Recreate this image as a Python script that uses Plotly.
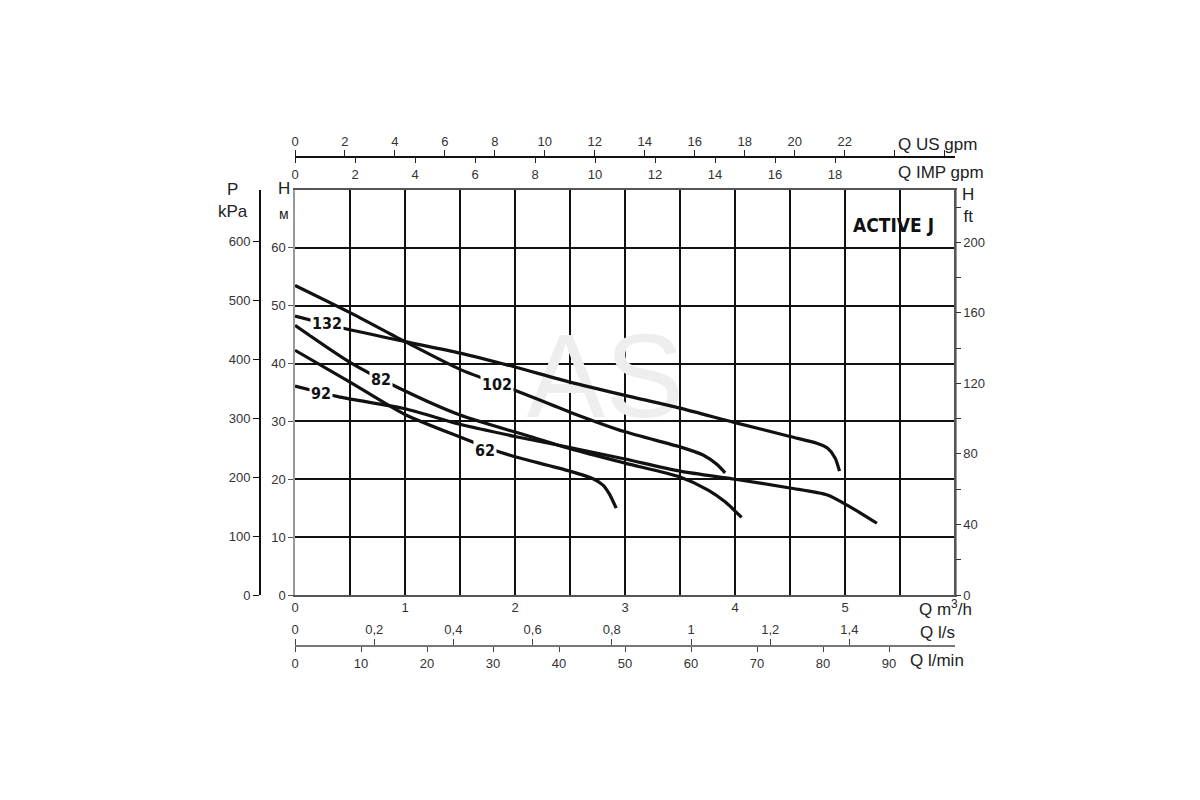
import plotly.graph_objects as go

# pump curves, Q in m3/h, H in m
q_132 = [0, 0.44, 1.0, 1.5, 2.0, 2.5, 3.0, 3.5, 4.0, 4.5, 4.75, 4.84, 4.91, 4.95]
h_132 = [48.2, 46.1, 43.8, 41.8, 39.4, 36.8, 34.5, 32.3, 29.8, 27.4, 26.2, 25.4, 23.7, 21.4]

q_102 = [0, 0.5, 1.0, 1.5, 2.0, 2.5, 3.0, 3.5, 3.71, 3.84, 3.91]
h_102 = [53.5, 48.8, 43.8, 39.0, 35.4, 31.6, 28.2, 25.6, 24.2, 22.5, 21.1]

q_82 = [0, 0.5, 0.93, 1.5, 2.1, 2.5, 3.0, 3.5, 3.76, 3.91, 4.06]
h_82 = [46.6, 40.2, 35.9, 31.1, 27.6, 25.3, 22.8, 20.4, 18.1, 16.1, 13.4]

q_92 = [0, 0.41, 1.0, 1.5, 2.0, 2.5, 3.0, 3.5, 4.0, 4.5, 4.84, 5.05, 5.29]
h_92 = [36.1, 34.2, 32.2, 29.5, 27.4, 25.5, 23.5, 21.4, 20.0, 18.5, 17.3, 15.2, 12.4]

q_62 = [0, 0.5, 1.0, 1.5, 1.86, 2.0, 2.5, 2.71, 2.8, 2.86, 2.92]
h_62 = [42.3, 36.8, 31.2, 27.3, 24.7, 23.9, 21.4, 20.1, 19.0, 17.4, 15.0]

# curve labels: name, Q, H
curve_labels = ["132", "82", "102", "92", "62"]
label_q = [0.29, 0.78, 1.84, 0.24, 1.73]
label_h = [47.0, 37.3, 36.4, 34.9, 24.9]

# axis ticks
q_ticks = [0, 1, 2, 3, 4, 5]
h_ticks = [0, 10, 20, 30, 40, 50, 60]
kpa_ticks = [0, 100, 200, 300, 400, 500, 600]
ft_ticks = [0, 40, 80, 120, 160, 200]
usgpm_ticks = [0, 2, 4, 6, 8, 10, 12, 14, 16, 18, 20, 22]
impgpm_ticks = [0, 2, 4, 6, 8, 10, 12, 14, 16, 18]
ls_ticks = [0, 0.2, 0.4, 0.6, 0.8, 1.0, 1.2, 1.4]
ls_text = ["0", "0,2", "0,4", "0,6", "0,8", "1", "1,2", "1,4"]
lmin_ticks = [0, 10, 20, 30, 40, 50, 60, 70, 80, 90]

Q_MAX = 6.0
H_MAX = 70.0

# page coords are offset by the 8px body margin
OFF = 8
W, H = 1200, 800
ML, MR, MT, MB = 192, 253, 122, 128
PW, PH = W - ML - MR, H - MT - MB


def px(x):
    return (x - OFF - ML) / PW


def py(y):
    return (H - MB - (y - OFF)) / PH


FONT = "Liberation Sans, Arial, sans-serif"
NARROW = "DejaVu Sans Condensed, Liberation Sans Narrow, sans-serif"
tick_font = dict(family=FONT, size=13, color="#333")

fig = go.Figure()

# faint watermark behind the curves
fig.add_trace(go.Scatter(x=[2.82], y=[35.8], mode="text", text=["AS"],
                         textfont=dict(family=FONT, size=118, color="#eeeeee"),
                         hoverinfo="skip", showlegend=False))

for q, h in [(q_132, h_132), (q_102, h_102), (q_82, h_82), (q_92, h_92), (q_62, h_62)]:
    fig.add_trace(go.Scatter(x=q, y=h, mode="lines",
                             line=dict(color="#111", width=3.2, shape="spline", smoothing=0.7),
                             hoverinfo="skip", showlegend=False))

# empty traces so the extra axes get drawn
for xa, ya in [("x2", "y"), ("x3", "y"), ("x4", "y"), ("x5", "y"), ("x", "y2"), ("x", "y3")]:
    fig.add_trace(go.Scatter(x=[], y=[], xaxis=xa, yaxis=ya, showlegend=False, hoverinfo="skip"))

xdom = [px(295), 1.0]
ydom = [py(595), py(190)]

fig.update_layout(
    width=W, height=H,
    margin=dict(l=ML, r=MR, t=MT, b=MB),
    paper_bgcolor="white", plot_bgcolor="white",
    showlegend=False,
    xaxis=dict(domain=xdom, range=[0, Q_MAX], tickvals=q_ticks,
               showgrid=True, gridcolor="#111", gridwidth=1.6, zeroline=False,
               minor=dict(dtick=0.5, showgrid=True, gridcolor="#111", gridwidth=1.6),
               ticks="", showline=True, mirror=True, linecolor="#555", linewidth=1.5,
               tickfont=tick_font, anchor="y"),
    yaxis=dict(domain=ydom, range=[0, H_MAX], tickvals=h_ticks,
               showgrid=True, gridcolor="#111", gridwidth=1.6, zeroline=False,
               ticks="outside", ticklen=5, tickcolor="#555",
               showline=True, mirror=True, linecolor="#999", linewidth=1.5,
               tickfont=tick_font, anchor="x"),
    yaxis2=dict(overlaying="y", anchor="free", position=px(260), side="left",
                range=[0, H_MAX * 9.81], tickvals=kpa_ticks, showgrid=False, zeroline=False,
                ticks="outside", ticklen=6, tickcolor="#111",
                showline=True, linecolor="#111", linewidth=2, tickfont=tick_font),
    yaxis3=dict(overlaying="y", anchor="free", position=1.0, side="right",
                range=[0, H_MAX / 0.3048], tickvals=ft_ticks,
                minor=dict(dtick=20, ticks="outside", ticklen=5, tickcolor="#333", showgrid=False),
                showgrid=False, zeroline=False, ticks="outside", ticklen=5, tickcolor="#333",
                showline=True, linecolor="#555", linewidth=1.5, tickfont=tick_font),
    xaxis2=dict(overlaying="x", anchor="free", position=py(157), side="top",
                range=[0, Q_MAX * 4.40287], tickvals=usgpm_ticks,
                minor=dict(dtick=2, ticks="outside", ticklen=6, tickcolor="#222", showgrid=False),
                showgrid=False, zeroline=False, ticks="outside", ticklen=5, tickcolor="#222",
                showline=True, linecolor="#111", linewidth=2, tickfont=tick_font),
    xaxis3=dict(overlaying="x", anchor="free", position=py(157), side="bottom",
                range=[0, Q_MAX * 3.66615], tickvals=impgpm_ticks,
                showgrid=False, zeroline=False, ticks="outside", ticklen=5, tickcolor="#222",
                showline=False, tickfont=tick_font),
    xaxis4=dict(overlaying="x", anchor="free", position=py(646), side="top",
                range=[0, Q_MAX / 3.6], tickvals=ls_ticks, ticktext=ls_text,
                showgrid=False, zeroline=False, ticks="outside", ticklen=6, tickcolor="#444",
                showline=True, linecolor="#777", linewidth=1.5, tickfont=tick_font),
    xaxis5=dict(overlaying="x", anchor="free", position=py(646), side="bottom",
                range=[0, Q_MAX * 1000 / 60], tickvals=lmin_ticks,
                showgrid=False, zeroline=False, ticks="outside", ticklen=5, tickcolor="#444",
                showline=False, tickfont=tick_font),
)

# curve labels, white box hides the line behind them
for txt, q, h in zip(curve_labels, label_q, label_h):
    fig.add_annotation(x=q, y=h, text="<b>%s</b>" % txt, showarrow=False,
                       font=dict(family=NARROW, size=16, color="#111"),
                       bgcolor="white", borderpad=1)

fig.add_annotation(x=5.44, y=63.9, text="<b>ACTIVE J</b>", showarrow=False,
                   font=dict(family=NARROW, size=19, color="#111"))

# axis names
title_font = dict(family=FONT, size=17, color="#222")
names = [
    ("P<br>kPa", 233, 200, "center", 17),
    ("H", 284, 188, "center", 17),
    ("м", 284, 214, "center", 14),
    ("H<br>ft", 968, 205, "center", 17),
    ("Q US gpm", 896, 145, "left", 17),
    ("Q IMP gpm", 896, 172, "left", 17),
    ("Q m<sup>3</sup>/h", 917, 608, "left", 17),
    ("Q l/s", 918, 632, "left", 17),
    ("Q l/min", 908, 660, "left", 17),
]
for txt, x, y, al, sz in names:
    fig.add_annotation(x=px(x), y=py(y), xref="paper", yref="paper", text=txt,
                       showarrow=False, xanchor=al, yanchor="middle", align="center",
                       font=dict(family=FONT, size=sz, color="#222"))

fig.write_html("out.html")
